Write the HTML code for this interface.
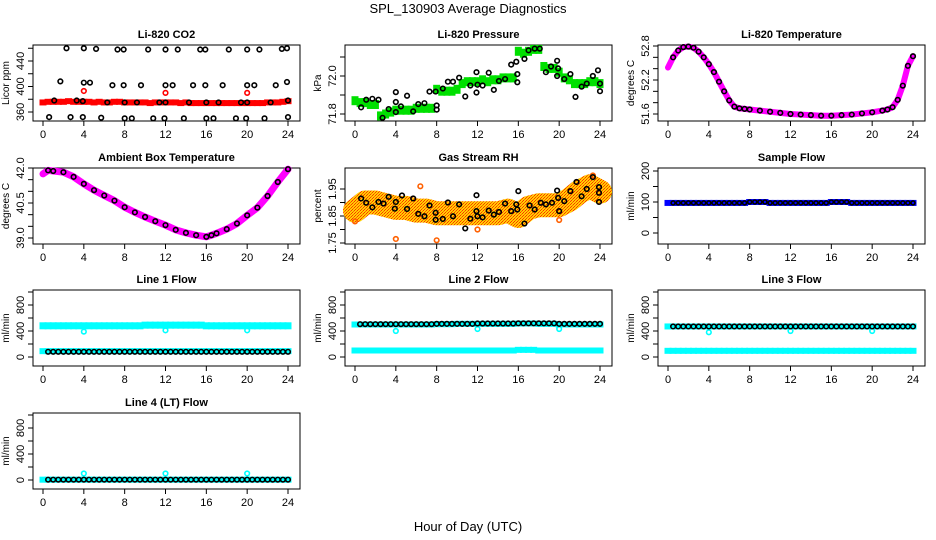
<!DOCTYPE html>
<html><head><meta charset="utf-8"><style>
html,body{margin:0;padding:0;background:#fff;}
svg{display:block;font-family:"Liberation Sans",Arial,sans-serif;}
</style></head><body>
<svg id="c" width="936" height="540" viewBox="0 0 936 540">
<defs>
<pattern id="rhpat" width="3" height="3" patternUnits="userSpaceOnUse">
<rect width="3" height="3" fill="#ffd000"/>
<rect x="0" y="0" width="1" height="1" fill="#ff3000"/>
<rect x="2" y="1" width="1" height="1" fill="#ff6000"/>
<rect x="1" y="2" width="1" height="1" fill="#ff3000"/>
</pattern>
</defs>
<text x="468" y="13" text-anchor="middle" font-size="13">SPL_130903  Average Diagnostics</text>
<text x="468" y="531" text-anchor="middle" font-size="13">Hour of Day (UTC)</text>
</svg>
<script>
// ---- data arrays ----
const xTicks = [0,4,8,12,16,20,24];
const halfHours = [0,0.5,1,1.5,2,2.5,3,3.5,4,4.5,5,5.5,6,6.5,7,7.5,8,8.5,9,9.5,10,10.5,11,11.5,12,12.5,13,13.5,14,14.5,15,15.5,16,16.5,17,17.5,18,18.5,19,19.5,20,20.5,21,21.5,22,22.5,23,23.5,24];
const circHours = [0.5,1,1.5,2,2.5,3,3.5,4,4.5,5,5.5,6,6.5,7,7.5,8,8.5,9,9.5,10,10.5,11,11.5,12,12.5,13,13.5,14,14.5,15,15.5,16,16.5,17,17.5,18,18.5,19,19.5,20,20.5,21,21.5,22,22.5,23,23.5,24];

const co2Red = [375,376,376,376,376,377,376,376,376,376,375,376,375,375,376,376,375,375,375,375,375,374,375,375,375,375,375,374,375,374,374,374,374,374,374,374,374,374,374,374,374,374,374,374,375,375,375,376,377];
const co2RedOutH = [4,12,20];
const co2RedOutV = [393,390,390];
const co2BlkH = [2.3,4.0,5.2,7.3,7.9,10.3,12.0,13.2,15.4,15.9,18.2,20.0,21.2,23.4,23.9, 1.7,4.0,4.6,6.8,7.9,9.6,12.0,12.7,14.7,15.9,17.6,20.0,20.7,22.8,23.9, 1.1,3.3,3.9,6.3,8.0,9.2,11.4,12.0,14.3,16.0,17.2,19.4,20.0,22.3,24.0, 0.6,2.7,3.9,5.7,8.0,8.7,10.8,11.9,13.8,16.0,16.7,18.9,19.9,21.7,24.0];
const co2BlkV = [460,460,459,458,458,458,458,458,458,458,458,458,458,459,460, 408,406,406,402,402,402,402,402,402,402,402,402,402,402,407, 378,378,377,375,375,375,375,375,375,375,375,375,375,375,378, 352,352,352,351,350,350,350,350,350,350,350,350,350,350,352];

const presGreen = [71.87,71.86,71.86,71.85,71.85,71.79,71.80,71.81,71.82,71.82,71.82,71.82,71.83,71.83,71.83,71.83,71.93,71.92,71.92,71.92,71.93,71.96,71.97,71.97,71.97,71.98,71.97,71.98,71.98,71.99,71.99,71.99,72.13,72.12,72.13,72.14,72.14,72.05,72.04,72.04,72.02,71.99,71.98,71.96,71.96,71.96,71.97,71.97,71.96];
const presBlkH = [0.6,1.1,1.7,2.3,2.7,3.3,4.0,4.0,4.0,4.5,5.1,5.7,6.2,6.8,7.3,7.9,8.0,8.0,8.6,9.1,9.6,10.2,10.8,11.3,11.9,11.9,12,12.5,13.1,13.6,14.1,14.7,15.3,15.8,15.9,15.9,16.6,17,17.6,18.1,18.7,19.2,19.8,19.9,19.8,20.5,21.1,21.6,22.2,22.7,23.3,23.8,24,24];
const presBlkV = [71.835,71.875,71.88,71.875,71.78,71.826,71.81,71.863,71.915,71.84,71.896,71.814,71.852,71.857,71.918,71.918,71.845,71.823,71.934,71.97,71.97,71.991,71.892,71.95,71.913,72.02,71.954,71.95,72.017,71.927,71.974,71.984,72.06,72.075,71.967,72.01,72.09,72.135,72.144,72.144,72.02,72.05,72.08,72.04,72.0,71.984,72.01,71.89,71.944,71.96,72.0,72.03,71.96,71.92];

const liTempH = [0,0.5,1,1.5,2,2.5,3,3.5,4,4.5,5,5.5,6,6.5,7,7.5,8,9,10,11,12,13,14,15,16,17,18,19,20,21,21.5,22,22.5,23,23.5,24];
const liTempV = [52.42,52.6,52.72,52.78,52.79,52.77,52.7,52.6,52.48,52.34,52.17,52.0,51.84,51.73,51.7,51.69,51.68,51.66,51.64,51.62,51.6,51.59,51.58,51.57,51.57,51.58,51.59,51.61,51.63,51.66,51.68,51.72,51.85,52.1,52.45,52.62];

const ambH = [0,0.5,1,2,3,4,5,6,7,8,9,10,11,12,13,14,15,16,16.5,17,18,19,20,21,22,23,24];
const ambV = [41.75,41.9,41.87,41.82,41.62,41.32,41.05,40.82,40.6,40.32,40.1,39.9,39.72,39.55,39.35,39.22,39.12,39.05,39.12,39.2,39.38,39.62,39.97,40.3,40.8,41.4,41.95];

const rhHours = [0,1,2,3,4,5,6,7,8,9,10,11,12,13,14,15,16,17,18,19,20,21,22,23,24];
const rhMean = [1.87,1.9,1.9,1.89,1.88,1.88,1.87,1.87,1.86,1.86,1.86,1.86,1.86,1.86,1.86,1.87,1.85,1.88,1.89,1.89,1.89,1.91,1.94,1.96,1.94];
const rhBlkH = [0.6,1.1,1.7,2.3,2.8,3.3,3.9,4,4.6,5.1,5.7,6.2,6.8,7.3,7.9,7.9,8.6,9.1,9.6,10.2,10.8,11.3,11.9,11.9,12,12.5,13.1,13.6,14.1,14.7,15.3,15.8,16,15.9,16.6,17.1,17.6,18.2,18.7,19.3,19.8,19.9,20,20.5,21.1,21.7,22.2,22.7,23.3,23.9,23.9,23.9];
const rhBlkV = [1.915,1.899,1.882,1.902,1.896,1.921,1.877,1.902,1.926,1.876,1.915,1.858,1.849,1.889,1.862,1.836,1.839,1.90,1.849,1.893,1.804,1.84,1.927,1.868,1.849,1.845,1.87,1.855,1.865,1.896,1.868,1.893,1.942,1.874,1.822,1.889,1.874,1.899,1.893,1.899,1.944,1.917,1.868,1.905,1.942,1.976,1.923,1.95,1.994,1.936,1.957,1.902];
const rhOutH = [0,4,8,12,20,23.3,6.4];
const rhOutV = [1.83,1.765,1.76,1.80,1.835,2.0,1.96];

const sampleBlue = [97,97,97,97,97,97,97,97,97,97,97,97,97,97,97,97,100,100,100,100,97,97,97,97,97,97,97,97,97,97,97,97,100,100,100,100,97,97,97,97,97,97,97,97,97,97,97,97,97];

const l1Cyan = [480,480,480,480,480,480,480,480,480,480,480,480,480,480,480,480,480,480,480,480,490,490,490,490,490,490,490,490,490,490,490,490,480,480,480,480,480,480,480,480,480,480,480,480,480,480,480,480,480];
const l1CyanLow = [90,90,90,90,90,90,90,90,90,90,90,90,90,90,90,90,90,90,90,90,90,90,90,90,90,90,90,90,90,90,90,90,90,90,90,90,90,90,90,90,90,90,90,90,90,90,90,90,90];
const l1Blk = [80,80,80,80,80,80,80,80,80,80,80,80,80,80,80,80,80,80,80,80,80,80,80,80,80,80,80,80,80,80,80,80,80,80,80,80,80,80,80,80,80,80,80,80,80,80,80,80];
const l1OutH = [4,12,20];
const l1OutV = [390,410,410];

const l2Cyan = [500,500,500,500,500,500,500,500,500,500,500,500,500,500,500,500,505,505,505,505,510,510,510,510,510,510,510,510,510,510,510,510,515,515,515,515,510,510,510,510,500,500,500,500,500,500,500,500,500];
const l2CyanLow = [100,100,100,100,100,100,100,100,100,100,100,100,100,100,100,100,100,100,100,100,100,100,100,100,100,100,100,100,100,100,100,100,110,110,110,110,100,100,100,100,100,100,100,100,100,100,100,100,100];
const l2Blk = [505,505,505,505,505,505,505,505,505,505,505,505,505,505,505,510,510,510,510,510,510,510,510,515,515,515,515,515,515,515,515,518,518,518,518,518,518,518,518,510,510,510,510,510,510,510,510,510];
const l2OutH = [4,12,20];
const l2OutV = [400,430,430];

const l3Cyan = [470,470,470,470,470,470,470,470,470,470,470,470,470,470,470,470,470,470,470,470,470,470,470,470,470,470,470,470,470,470,470,470,470,470,470,470,470,470,470,470,470,470,470,470,470,470,470,470,470];
const l3CyanLow = [95,95,95,95,95,95,95,95,95,95,95,95,95,95,95,95,95,95,95,95,95,95,95,95,95,95,95,95,95,95,95,95,95,95,95,95,95,95,95,95,95,95,95,95,95,95,95,95,95];
const l3Blk = [470,470,470,470,470,470,470,470,470,470,470,470,470,470,470,470,470,470,470,470,470,470,470,470,470,470,470,470,470,470,470,470,470,470,470,470,470,470,470,470,470,470,470,470,470,470,470,470];
const l3OutH = [4,12,20];
const l3OutV = [380,400,400];

const l4Cyan = [5,5,5,5,5,5,5,5,5,5,5,5,5,5,5,5,5,5,5,5,5,5,5,5,5,5,5,5,5,5,5,5,5,5,5,5,5,5,5,5,5,5,5,5,5,5,5,5,5];
const l4Blk = [5,5,5,5,5,5,5,5,5,5,5,5,5,5,5,5,5,5,5,5,5,5,5,5,5,5,5,5,5,5,5,5,5,5,5,5,5,5,5,5,5,5,5,5,5,5,5,5];
const l4OutH = [4,12,20];
const l4OutV = [100,100,100];

// ---- drawing ----
const NS = 'http://www.w3.org/2000/svg';
const svg = document.getElementById('c');
const colX = [33,345,658];
const rowY = [45,168,290,413];
const W = 267, H = 76;
function mk(tag, attrs, parent){
  const e = document.createElementNS(NS, tag);
  for (const k in attrs) e.setAttribute(k, attrs[k]);
  (parent||svg).appendChild(e);
  return e;
}
function panel(name, col, row, title, ylab, v0, p0, v1, p1, ticks, labels){
  const ox = colX[col], oy = rowY[row];
  const g = mk('g', {});
  
  
  const xs = h => ox + 10 + h * 245 / 24;
  const ys = v => oy + p0 + (v - v0) * (p1 - p0) / (v1 - v0);
  const box = mk('rect', {x: ox, y: oy, width: W, height: H, fill: 'none', stroke: '#000', 'stroke-width': 1}, g);
  
  
  const t = mk('text', {x: ox + W/2, y: oy - 7, 'text-anchor': 'middle', 'font-size': 11, 'font-weight': 'bold'}, g);
  t.textContent = title;
  
  
  const yl = mk('text', {x: 0, y: 0, 'text-anchor': 'middle', 'font-size': 10, transform: `translate(${ox-24},${oy+H/2}) rotate(-90)`}, g);
  yl.textContent = ylab;
  
  
  xTicks.forEach(h => {
    mk('line', {x1: xs(h), x2: xs(h), y1: oy + H, y2: oy + H + 5, stroke: '#000'}, g);
    const tl = mk('text', {x: xs(h), y: oy + H + 17, 'text-anchor': 'middle', 'font-size': 11}, g);
    tl.textContent = h;
    
    
  });
  ticks.forEach(v => {
    mk('line', {x1: ox - 5, x2: ox, y1: ys(v), y2: ys(v), stroke: '#000'}, g);
  });
  labels.forEach(v => {
    const tl = mk('text', {x: 0, y: 0, 'text-anchor': 'middle', 'font-size': 11, transform: `translate(${ox-9},${ys(v)}) rotate(-90)`}, g);
    tl.textContent = v;
    
    
  });
  return {g, xs, ys, ox, oy};
}
function band(P, hs, vs, color, hgt, name){
  hs.forEach((h, i) => {
    const r = mk('rect', {x: P.xs(h) - 3.5, y: P.ys(vs[i]) - hgt/2, width: 7, height: hgt, fill: color}, P.g);
    
    
  });
}
function line(P, hs, vs, color, w, name){
  const pl = mk('polyline', {points: hs.map((h,i)=>P.xs(h)+','+P.ys(vs[i])).join(' '), fill: 'none', stroke: color, 'stroke-width': w, 'stroke-linejoin': 'round', 'stroke-linecap': 'round'}, P.g);
  
  
}
function pts(P, hs, vs, color, name, r){
  hs.forEach((h, i) => {
    const c = mk('circle', {cx: P.xs(h), cy: P.ys(vs[i]), r: r||2.3, fill: 'none', stroke: color, 'stroke-width': 1.6}, P.g);
    
    
  });
}

// CO2
let P = panel('co2', 0, 0, 'Li-820 CO2', 'Licor ppm', 360, 67, 440, 16, [360,380,400,420,440,460], [360,400,440]);
band(P, halfHours, co2Red, '#ff0000', 6, 'co2-red-band');
pts(P, co2RedOutH, co2RedOutV, '#ff0000', 'co2-red-point');
pts(P, co2BlkH, co2BlkV, '#000', 'co2-point');

// Pressure
P = panel('pressure', 1, 0, 'Li-820 Pressure', 'kPa', 71.8, 69, 72.0, 31, [71.8,71.9,72.0,72.1], ['71.8','72.0']);
band(P, halfHours, presGreen, '#00e000', 9, 'pressure-green-band');
pts(P, presBlkH, presBlkV, '#000', 'pressure-point');

// Li temp
P = panel('li-temp', 2, 0, 'Li-820 Temperature', 'degrees C', 51.6, 69, 52.8, 1, [51.6,51.8,52.0,52.2,52.4,52.6,52.8], ['51.6','52.2','52.8']);
line(P, liTempH, liTempV, '#ff00ff', 6, 'li-temp-line');
pts(P, liTempH.slice(1), liTempV.slice(1), '#000', 'li-temp-point');

// Ambient
P = panel('ambient', 0, 1, 'Ambient Box Temperature', 'degrees C', 39.0, 70, 42.0, 0, [39.0,39.5,40.0,40.5,41.0,41.5,42.0], ['39.0','40.5','42.0']);
line(P, ambH, ambV, '#ff00ff', 7, 'ambient-line');
pts(P, ambH.slice(1), ambV.slice(1), '#000', 'ambient-point');

// RH
P = panel('rh', 1, 1, 'Gas Stream RH', 'percent', 1.75, 75, 1.95, 21, [1.75,1.80,1.85,1.90,1.95], ['1.75','1.85','1.95']);
line(P, rhHours, rhMean, 'url(#rhpat)', 24, 'rh-cloud');
pts(P, rhOutH, rhOutV, '#ff6000', 'rh-outlier');
pts(P, rhBlkH, rhBlkV, '#000', 'rh-point');

// Sample flow
P = panel('sample-flow', 2, 1, 'Sample Flow', 'ml/min', 0, 65, 200, 3, [0,50,100,150,200], [0,100,200]);
band(P, halfHours, sampleBlue, '#0000ff', 6, 'sample-flow-band');
pts(P, circHours, sampleBlue.slice(1), '#000', 'sample-flow-point', 2);

const fT = [0,200,400,600,800,1000], fL = [0,400,800];
// Line 1
P = panel('line1', 0, 2, 'Line 1 Flow', 'ml/min', 0, 67, 800, 15, fT, fL);
band(P, halfHours, l1Cyan, '#00ffff', 7, 'line1-cyan-band');
band(P, halfHours, l1CyanLow, '#00ffff', 6, 'line1-cyan-low-band');
pts(P, l1OutH, l1OutV, '#00ffff', 'line1-cyan-outlier');
pts(P, circHours, l1Blk, '#000', 'line1-point');
// Line 2
P = panel('line2', 1, 2, 'Line 2 Flow', 'ml/min', 0, 67, 800, 15, fT, fL);
band(P, halfHours, l2CyanLow, '#00ffff', 6, 'line2-cyan-low-band');
band(P, halfHours, l2Cyan, '#00ffff', 6, 'line2-cyan-band');
pts(P, l2OutH, l2OutV, '#00ffff', 'line2-cyan-outlier');
pts(P, circHours, l2Blk, '#000', 'line2-point');
// Line 3
P = panel('line3', 2, 2, 'Line 3 Flow', 'ml/min', 0, 67, 800, 15, fT, fL);
band(P, halfHours, l3CyanLow, '#00ffff', 6, 'line3-cyan-low-band');
band(P, halfHours, l3Cyan, '#00ffff', 6, 'line3-cyan-band');
pts(P, l3OutH, l3OutV, '#00ffff', 'line3-cyan-outlier');
pts(P, circHours, l3Blk, '#000', 'line3-point');
// Line 4
P = panel('line4', 0, 3, 'Line 4 (LT) Flow', 'ml/min', 0, 67, 800, 15, fT, fL);
band(P, halfHours, l4Cyan, '#00ffff', 6, 'line4-cyan-band');
pts(P, l4OutH, l4OutV, '#00ffff', 'line4-cyan-outlier');
pts(P, circHours, l4Blk, '#000', 'line4-point');
</script>
</body></html>
